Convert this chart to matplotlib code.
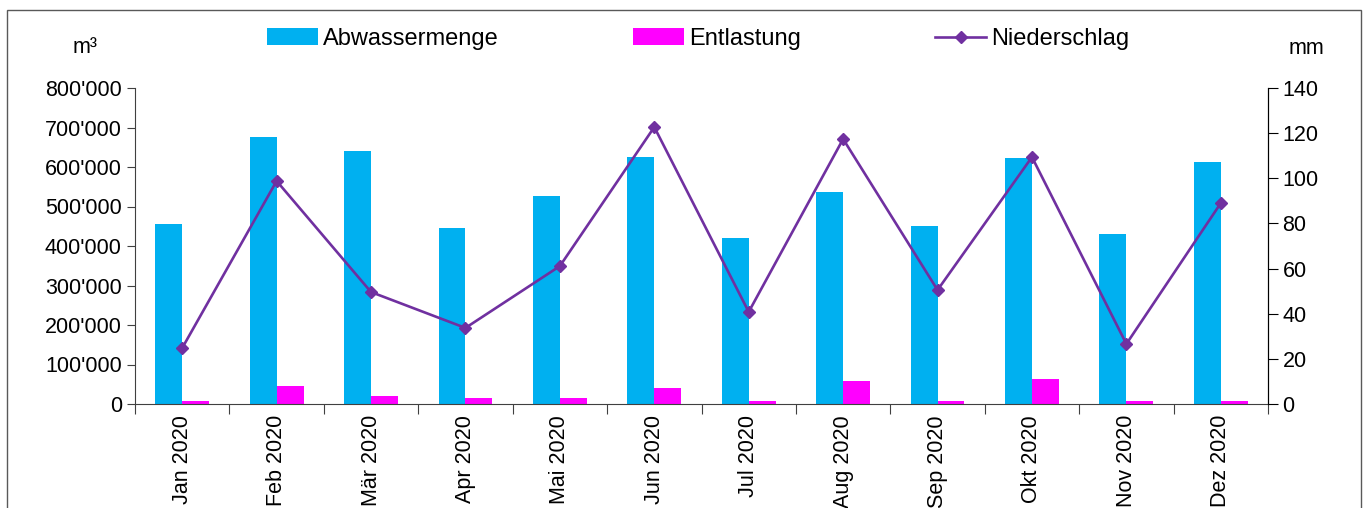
import numpy as np
import matplotlib.pyplot as plt
from matplotlib.ticker import FuncFormatter, FixedLocator
from matplotlib.patches import Rectangle

plt.rcParams['font.family'] = ['Liberation Sans', 'DejaVu Sans']

# data
months = ["Jan 2020", "Feb 2020", "Mär 2020", "Apr 2020", "Mai 2020", "Jun 2020",
          "Jul 2020", "Aug 2020", "Sep 2020", "Okt 2020", "Nov 2020", "Dez 2020"]
abwasser = [455000, 676000, 640000, 445000, 526000, 625000,
            420000, 536000, 450000, 622000, 430000, 612000]
entlastung = [7500, 45000, 20000, 15000, 15000, 40000,
              7500, 58000, 7000, 63000, 7000, 7000]
niederschlag = [24.8, 98.8, 49.6, 33.7, 61.1, 122.7,
                40.8, 117.4, 50.5, 109.4, 26.6, 89.0]

blue = '#00B0F0'
magenta = '#FF00FF'
purple = '#7030A0'
axcol = '#404040'

fig = plt.figure(figsize=(13.65, 5.08), dpi=100)
ax = fig.add_axes([135/1365, 1 - 404/508, (1268-135)/1365, (404-88)/508])
ax2 = ax.twinx()

x = np.arange(len(months)) + 0.5
w = 0.285
b1 = ax.bar(x - w, abwasser, width=w, align='edge', color=blue, label='Abwassermenge', zorder=2)
b2 = ax.bar(x, entlastung, width=w, align='edge', color=magenta, label='Entlastung', zorder=2)
ln, = ax2.plot(x, niederschlag, color=purple, lw=1.9, marker='D', markersize=6.5,
               label='Niederschlag', zorder=3)

ax.set_xlim(0, 12)
ax.set_ylim(0, 800000)
ax2.set_ylim(0, 140)
ax.set_yticks(np.arange(0, 800001, 100000))
ax2.set_yticks(np.arange(0, 141, 20))
ax.yaxis.set_major_formatter(FuncFormatter(lambda v, p: f"{int(v):,}".replace(',', "'")))

# ticks at category boundaries, labels at centers
ax.xaxis.set_major_locator(FixedLocator(np.arange(0, 13)))
ax.xaxis.set_minor_locator(FixedLocator(x))
ax.set_xticklabels([''] * 13)
ax.set_xticklabels(months, minor=True, rotation=90, fontsize=15.5)
ax.tick_params(axis='x', which='major', direction='out', length=7, color=axcol)
ax.tick_params(axis='x', which='minor', length=0, pad=8)
ax.tick_params(axis='y', direction='out', length=6, labelsize=15.5, color=axcol)
ax2.tick_params(axis='y', direction='out', length=7, labelsize=15.5, color='black')

for a in (ax, ax2):
    a.spines['top'].set_visible(False)
ax.spines['left'].set_color(axcol)
ax.spines['bottom'].set_color(axcol)
ax2.spines['left'].set_visible(False)
ax2.spines['bottom'].set_visible(False)
ax2.spines['right'].set_color('black')

fig.text(85/1365, 1 - 47/508, 'm³', fontsize=15.5, ha='center', va='center')
fig.text(1306/1365, 1 - 48/508, 'mm', fontsize=15.5, ha='center', va='center')

fig.legend(handles=[b1, b2, ln], loc='center left', bbox_to_anchor=(267/1365, 1 - 39/508),
           ncol=3, frameon=False, fontsize=17, handlelength=2.16, handletextpad=0.2,
           columnspacing=5.7, borderpad=0, borderaxespad=0)

# outer chart border
fig.patches.append(Rectangle((7/1365, -0.1), (1361-7)/1365, 1.1 - 10/508,
                             transform=fig.transFigure, fill=False, edgecolor='#595959', lw=1))

fig.savefig('out.png', dpi=100)
